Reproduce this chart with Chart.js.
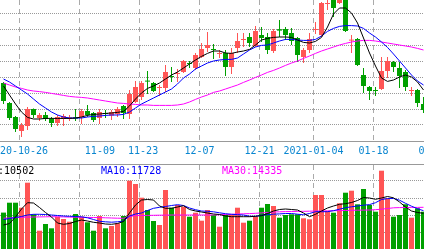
<!DOCTYPE html>
<html>
<head>
<meta charset="utf-8">
<script src="https://cdn.jsdelivr.net/npm/chart.js@4/dist/chart.umd.min.js"></script>
<style>
  html, body { margin: 0; padding: 0; background: #fff; }
  body { width: 424px; height: 249px; overflow: hidden; position: relative; }
  canvas { position: absolute; left: -100px; }
  #kline { top: 0; }
  #vol { top: 164px; }
</style>
</head>
<body>
<canvas id="kline" width="624" height="164"></canvas>
<canvas id="vol" width="624" height="85"></canvas>
<script>
// trading days shown (2021-01-01 is a holiday)
const dates = [
  '2020-10-21','2020-10-22','2020-10-23','2020-10-26','2020-10-27','2020-10-28','2020-10-29','2020-10-30',
  '2020-11-02','2020-11-03','2020-11-04','2020-11-05','2020-11-06','2020-11-09','2020-11-10','2020-11-11',
  '2020-11-12','2020-11-13','2020-11-16','2020-11-17','2020-11-18','2020-11-19','2020-11-20','2020-11-23',
  '2020-11-24','2020-11-25','2020-11-26','2020-11-27','2020-11-30','2020-12-01','2020-12-02','2020-12-03',
  '2020-12-04','2020-12-07','2020-12-08','2020-12-09','2020-12-10','2020-12-11','2020-12-14','2020-12-15',
  '2020-12-16','2020-12-17','2020-12-18','2020-12-21','2020-12-22','2020-12-23','2020-12-24','2020-12-25',
  '2020-12-28','2020-12-29','2020-12-30','2020-12-31','2021-01-04','2021-01-05','2021-01-06','2021-01-07',
  '2021-01-08','2021-01-11','2021-01-12','2021-01-13','2021-01-14','2021-01-15','2021-01-18','2021-01-19',
  '2021-01-20','2021-01-21','2021-01-22','2021-01-25','2021-01-26','2021-01-27','2021-01-28'
];

const open = [12.90,11.90,11.20,10.50,10.75,11.60,11.15,11.30,11.10,10.90,11.10,11.12,11.18,11.20,11.50,11.40,
  11.15,11.40,11.27,11.35,11.75,11.35,11.95,12.20,13.00,12.90,12.65,12.65,13.25,13.35,13.45,13.90,13.65,14.20,
  14.65,14.60,14.35,14.40,13.70,14.65,15.05,15.20,14.75,15.30,15.20,14.50,15.59,15.60,15.40,15.15,14.20,14.55,
  15.55,15.30,16.85,17.15,16.90,17.30,15.02,15.10,13.30,12.70,12.53,12.60,13.50,13.95,13.65,13.45,12.50,12.55,11.85];
const close = [12.00,11.15,10.60,10.80,11.60,11.30,11.30,11.10,10.90,11.20,11.25,11.18,11.12,11.50,11.30,11.05,
  11.45,11.35,11.45,11.60,11.40,12.35,12.70,12.90,12.97,12.50,12.70,13.45,13.20,13.40,14.00,13.85,14.30,14.60,
  14.80,14.55,14.40,13.70,14.40,15.00,15.10,14.90,15.50,15.15,14.55,15.50,15.52,15.30,15.00,14.30,14.55,15.10,
  15.60,16.90,16.90,16.65,17.20,15.50,15.05,13.80,12.75,12.50,12.50,13.50,14.00,13.70,13.25,12.70,12.53,11.90,11.55];
const high = [12.95,11.95,11.25,10.90,11.70,11.62,11.40,11.45,11.20,11.30,11.35,11.30,11.60,11.60,11.80,11.45,
  11.60,11.55,11.55,11.70,11.80,12.55,13.00,13.00,13.50,12.95,12.80,13.80,13.70,13.60,14.05,14.00,14.40,14.90,
  15.45,14.85,14.55,14.55,14.65,15.40,15.40,15.40,15.75,15.70,15.40,15.60,16.05,15.70,15.65,15.20,14.65,15.40,
  15.95,16.95,17.20,17.30,17.35,17.45,15.30,15.15,13.65,12.75,12.70,14.20,14.20,14.00,13.95,13.55,12.70,12.60,12.20];
const low = [11.85,11.05,10.45,10.20,10.55,11.15,11.00,11.00,10.70,10.75,10.75,11.00,11.00,10.85,11.20,10.95,
  10.85,11.15,11.05,11.20,11.10,11.10,11.90,12.05,12.35,12.45,12.25,12.45,12.95,12.95,13.40,13.65,13.55,14.15,
  14.45,14.10,14.15,13.25,13.35,14.40,14.70,14.70,14.70,14.95,14.35,14.40,15.20,15.05,14.80,13.95,13.90,14.40,
  15.35,15.20,16.55,16.20,16.85,15.45,14.40,13.75,12.40,12.05,12.25,12.55,13.15,13.45,12.65,12.50,12.25,11.70,11.40];

const ma5 = [12.75,12.30,11.85,11.45,11.18,11.10,11.10,11.13,11.13,11.13,11.13,11.13,11.15,11.20,11.28,11.33,
  11.35,11.38,11.40,11.43,11.48,11.75,12.10,12.40,12.63,12.75,12.90,13.10,13.30,13.45,13.65,13.85,14.05,14.23,
  14.38,14.50,14.50,14.40,14.38,14.45,14.50,14.58,14.80,15.05,15.13,15.18,15.20,15.20,15.18,15.05,14.93,14.90,
  14.98,15.18,15.70,16.35,16.65,16.65,16.40,15.90,15.15,14.40,13.75,13.15,12.98,13.05,13.20,13.30,13.20,12.95,12.55];
const ma10 = [13.10,12.95,12.75,12.55,12.35,12.10,11.85,11.65,11.45,11.30,11.20,11.15,11.15,11.15,11.20,11.23,
  11.25,11.28,11.30,11.30,11.33,11.45,11.65,11.85,12.00,12.15,12.30,12.45,12.60,12.85,13.15,13.35,13.60,13.75,
  13.90,14.00,14.05,14.08,14.08,14.15,14.35,14.55,14.70,14.78,14.80,14.90,15.00,15.08,15.08,15.05,15.03,15.03,
  15.08,15.25,15.48,15.63,15.73,15.77,15.77,15.75,15.63,15.40,15.20,14.95,14.68,14.35,14.00,13.65,13.30,13.00,12.80];
const ma30 = [12.90,12.80,12.70,12.63,12.55,12.50,12.47,12.43,12.38,12.33,12.28,12.23,12.20,12.18,12.15,12.10,
  12.05,12.00,11.95,11.90,11.88,11.85,11.83,11.80,11.80,11.78,11.78,11.78,11.78,11.80,11.85,11.95,12.08,12.20,
  12.30,12.43,12.50,12.60,12.70,12.80,12.93,13.05,13.18,13.30,13.43,13.53,13.65,13.78,13.90,14.00,14.13,14.25,
  14.38,14.50,14.60,14.70,14.80,14.88,14.95,15.00,15.03,15.03,15.00,14.95,14.90,14.85,14.80,14.75,14.70,14.63,14.55];

const volume = [18200,23150,23150,20650,33150,17350,9150,12500,10350,16150,15000,13650,17500,16150,13350,9150,
  16500,10350,11500,12850,16500,34150,32500,25650,19500,14000,12000,29500,20650,22000,21150,16150,18150,14150,
  19500,17000,11150,17000,17350,20650,13150,14150,16150,20650,22500,21500,15650,17000,17350,17350,15350,14850,
  27000,27000,19000,18150,22850,28150,29150,22350,30000,22000,18650,39150,25350,16150,17000,22350,15650,20350,18650];
const volMa5 = [12000,12750,16000,20000,23150,23000,20750,18250,16000,13000,12350,12750,13750,14500,14000,13350,
  13000,12500,12350,12750,13750,18000,22000,24500,24750,24500,21500,20350,20350,21000,21650,19750,19000,18500,
  18000,17500,17250,16500,16150,16150,16150,16150,16350,16650,17750,19000,19750,20000,19750,19500,18000,16150,
  17350,19000,20500,21500,22350,22650,23250,24250,25750,25500,24850,25500,26250,25600,23500,21000,19000,18250,17850];
const volMa10 = [14750,15250,15750,16250,17000,17350,17350,17250,17000,16750,16500,16350,16250,16100,15600,14750,
  13850,13600,13400,13600,14000,16500,17500,18000,19250,20350,20850,21250,21750,22150,21750,20500,19650,19000,
  18850,18600,18100,17650,17350,17150,17000,16400,16350,16900,17150,17400,17550,17750,17750,17400,17100,17750,
  18650,18650,18650,19150,19900,20650,21100,21500,21900,22200,23150,24750,25200,25250,24400,22850,21400,20150,19150];
const volMa30 = [15400,15500,15700,15850,15950,16000,16050,16100,16150,16100,16050,15950,15900,15850,15800,15750,
  15700,15600,15500,15400,15350,16250,16700,16750,16800,16850,16900,16950,17000,17000,17000,17000,17000,17000,
  17000,17000,17150,17250,17350,17500,17600,17700,17850,18050,18250,18450,18600,18700,18750,18800,18850,18900,
  19000,19000,19100,19150,19200,19250,19350,19400,19450,19500,19650,19900,20250,20600,20700,20750,20800,20800,20850];

// date axis: gridlines sit on these trading-day positions (02-01 is the day after the last one shown)
const tickLabels = ['2020-10-26', '11-09', '11-23', '12-07', '12-21', '2021-01-04', '01-18', '02-01'];
const tickDay = [3, 13, 23, 33, 43, 52, 62, 72];
const tickTextDay = [2.75, 16.4, 23.6, 33, 43, 52, 62, 72];
const priceTicks = [10.8, 11.6, 12.4, 13.2, 14.0, 14.8, 15.6, 16.4];
const volTicks = [8500, 17000, 25500, 34000];

const volMaNames = ['MA5', 'MA10', 'MA30'];
const volMaLast = [10502, 11728, 14335];

const UP = '#ff5555';
const DOWN = '#00a000';
const maColors = ['#000000', '#0000ff', '#ff00ff'];
const xMin = -3.5 / 6;
const xMax = 420.5 / 6;
const edge = -1 / 3; // gridline sits on the left edge of the candle body

const candleColors = dates.map((d, k) => close[k] >= open[k] ? UP : DOWN);
const pts = arr => arr.map((v, k) => ({ x: k, y: v }));

const lineDs = (label, data, color) => ({
  type: 'line', label, data: pts(data), borderColor: color, borderWidth: 1,
  pointRadius: 0, tension: 0, order: 0, clip: 0
});

const gridX = position => ({
  type: 'linear', position, min: xMin, max: xMax, offset: false, weight: 0,
  afterBuildTicks: s => { s.ticks = tickDay.map(k => ({ value: k + edge })); },
  afterFit: s => { s.height = 0; },
  ticks: { display: false },
  grid: { display: true, drawOnChartArea: true, color: '#aaaaaa', lineWidth: 1, drawTicks: false, offset: false },
  border: { display: true, color: '#999999', width: 1, dash: [5, 4] }
});

const gridY = (min, max, ticks) => ({
  type: 'linear', min, max, beginAtZero: false,
  afterBuildTicks: s => { s.ticks = ticks.map(v => ({ value: v })); },
  afterFit: s => { s.width = 0; },
  ticks: { display: false },
  grid: { color: '#999999', drawTicks: false },
  border: { display: false, dash: [1, 1] }
});

const common = {
  responsive: false,
  animation: false,
  layout: { padding: { left: 100, right: 100, top: 0, bottom: 0 } },
  plugins: { legend: { display: false }, tooltip: { enabled: false } },
  datasets: { bar: { grouped: false, inflateAmount: 0, clip: 0, borderWidth: 0 } }
};

new Chart(document.getElementById('kline'), {
  type: 'bar',
  data: {
    datasets: [
      lineDs('MA5', ma5, maColors[0]),
      lineDs('MA10', ma10, maColors[1]),
      lineDs('MA30', ma30, maColors[2]),
      {
        label: 'body', order: 1, barThickness: 5, minBarLength: 1,
        data: dates.map((d, k) => ({ x: k, y: [open[k], close[k]] })),
        backgroundColor: candleColors
      },
      {
        label: 'wick', order: 2, barThickness: 1,
        data: dates.map((d, k) => ({ x: k, y: [low[k], high[k]] })),
        backgroundColor: candleColors
      }
    ]
  },
  options: {
    ...common,
    scales: {
      x: gridX('bottom'),
      xl: {
        type: 'linear', axis: 'x', position: 'bottom', min: xMin, max: xMax, offset: false, weight: 1,
        afterBuildTicks: s => { s.ticks = tickTextDay.map(k => ({ value: k + edge })); },
        afterFit: s => { s.height = 23; },
        ticks: {
          autoSkip: false, maxRotation: 0, minRotation: 0, padding: 4,
          color: '#0a86d0', font: { family: '"DejaVu Sans Mono"', size: 10 },
          callback: (v, i) => tickLabels[i]
        },
        grid: { display: false, drawTicks: false },
        border: { display: false }
      },
      y: gridY(10, 17.05, priceTicks)
    }
  }
});

const volMaText = {
  id: 'volMaText',
  afterDraw(chart) {
    const ctx = chart.ctx;
    ctx.save();
    ctx.font = '10px "DejaVu Sans Mono"';
    ctx.textBaseline = 'alphabetic';
    volMaNames.forEach((name, i) => {
      ctx.fillStyle = maColors[i];
      ctx.fillText(name + ':' + volMaLast[i], chart.chartArea.left - 20 + i * 121, 10);
    });
    ctx.restore();
  }
};

new Chart(document.getElementById('vol'), {
  type: 'bar',
  data: {
    datasets: [
      lineDs('MA5', volMa5, maColors[0]),
      lineDs('MA10', volMa10, maColors[1]),
      lineDs('MA30', volMa30, maColors[2]),
      {
        label: 'volume', order: 1, barThickness: 5,
        data: volume.map((v, k) => ({ x: k, y: v })),
        backgroundColor: candleColors
      }
    ]
  },
  options: {
    ...common,
    scales: {
      x: gridX('top'),
      y: gridY(0, 42500, volTicks)
    }
  },
  plugins: [volMaText]
});
</script>
</body>
</html>
